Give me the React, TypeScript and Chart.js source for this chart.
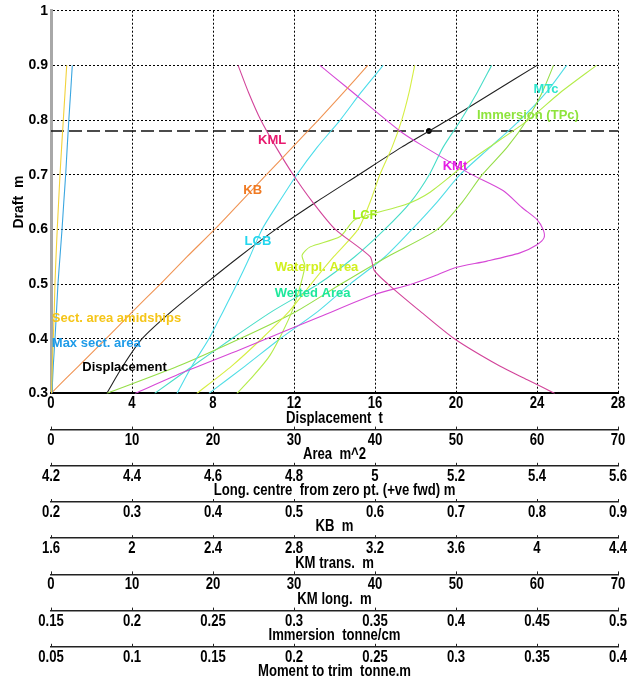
import React, { useEffect, useRef } from 'react';
import { Chart, registerables } from 'chart.js';
Chart.register(...registerables);

// ---- data ----
const drafts = [0.3, 0.35, 0.4, 0.45, 0.5, 0.55, 0.6, 0.65, 0.7, 0.75, 0.8, 0.85, 0.9];
const displacement = [2.75, 3.55, 4.5, 5.95, 7.6, 9.3, 11.1, 13.1, 15.2, 17.3, 19.6, 21.8, 24.0];
const sectAreaAmidships = [0.06, 0.16, 0.28, 0.4, 0.49, 0.62, 0.77, 0.94, 1.11, 1.31, 1.52, 1.73, 1.94];
const maxSectArea = [0.12, 0.28, 0.49, 0.68, 0.86, 1.11, 1.36, 1.58, 1.81, 2.0, 2.2, 2.42, 2.63];
const kb = [0.2, 0.234, 0.268, 0.301, 0.335, 0.368, 0.402, 0.434, 0.466, 0.498, 0.53, 0.561, 0.591];
const lcb = [4.511, 4.548, 4.59, 4.625, 4.659, 4.691, 4.721, 4.763, 4.807, 4.857, 4.914, 4.965, 5.02];
const waterplArea = [18.0, 22.3, 26.0, 29.4, 32.1, 34.9, 37.9, 39.4, 40.6, 42.1, 43.3, 44.2, 44.9];
const immersionTPc = [0.1845, 0.2286, 0.2665, 0.3014, 0.329, 0.3577, 0.3885, 0.4039, 0.4162, 0.4315, 0.4438, 0.4531, 0.4602];
const wettedArea = [12.8, 17.5, 22.3, 27.3, 33.0, 37.5, 41.2, 44.4, 46.7, 48.4, 50.6, 52.6, 54.4];
const mtc = [0.1475, 0.1698, 0.1914, 0.2148, 0.2346, 0.2562, 0.2728, 0.2883, 0.3025, 0.321, 0.3395, 0.3556, 0.3683];

const lcfDrafts = [0.3, 0.325, 0.37, 0.45, 0.532, 0.553, 0.568, 0.587, 0.618, 0.645, 0.668, 0.726, 0.798, 0.85, 0.9];
const lcf = [4.659, 4.691, 4.741, 4.795, 4.827, 4.82, 4.84, 4.914, 4.951, 5.074, 5.136, 5.235, 5.375, 5.457, 5.547];

const kmtDrafts = [0.3, 0.34, 0.38, 0.42, 0.44, 0.48, 0.5, 0.515, 0.53, 0.542, 0.557, 0.572, 0.585, 0.6, 0.618, 0.64, 0.671, 0.702, 0.756, 0.78, 0.86, 0.9];
const kmt = [2.015, 2.262, 2.533, 2.795, 2.928, 3.19, 3.383, 3.496, 3.595, 3.753, 3.916, 4.0, 4.035, 4.03, 4.0, 3.926, 3.832, 3.669, 3.422, 3.323, 3.06, 2.928];

const kmlDrafts = [0.3, 0.325, 0.35, 0.4, 0.45, 0.5, 0.525, 0.55, 0.6, 0.65, 0.7, 0.75, 0.8, 0.85, 0.9];
const kml = [62.2, 58.8, 55.4, 49.8, 45.6, 41.6, 39.9, 39.4, 35.1, 32.3, 29.9, 27.8, 25.9, 24.4, 23.1];

const designDraft = 0.78;
const designDisplacement = 18.66;

// curve labels
const labelTexts = ['Sect. area amidships', 'Max sect. area', 'Displacement', 'KML', 'KB', 'LCB', 'LCF', 'Waterpl. Area', 'Wetted Area', 'KMt', 'MTc', 'Immersion (TPc)'];
const labelAxes = ['xArea', 'xArea', 'x', 'xKML', 'xKB', 'xLong', 'xLong', 'xArea', 'xArea', 'xKMt', 'xMTc', 'xTPc'];
const labelValues = [0.1, 0.1, 3.63, 27.3, 0.449, 4.711, 4.975, 32.8, 32.3, 3.595, 0.3556, 0.4444];
const labelDrafts = [0.4375, 0.392, 0.348, 0.7626, 0.6713, 0.578, 0.6256, 0.5307, 0.4832, 0.715, 0.8557, 0.8083];
const labelAligns = ['left', 'left', 'center', 'center', 'center', 'center', 'center', 'center', 'center', 'center', 'center', 'center'];
const labelColors = ['#F5C518', '#1E9BE8', '#000000', '#E8196E', '#F07A22', '#22D6EE', '#A4EE1E', '#D2F01E', '#1EE89C', '#E41EE4', '#2EE6CE', '#8EE43C'];

// bottom axes
const axisIds = ['x', 'xArea', 'xLong', 'xKB', 'xKMt', 'xKML', 'xTPc', 'xMTc'];
const axisMins = [0, 0, 4.2, 0.2, 1.6, 0, 0.15, 0.05];
const axisMaxs = [28, 70, 5.6, 0.9, 4.4, 70, 0.5, 0.4];
const axisSteps = [4, 10, 0.2, 0.1, 0.4, 10, 0.05, 0.05];
const axisTitles = ['Displacement  t', 'Area  m^2', 'Long. centre  from zero pt. (+ve fwd) m', 'KB  m', 'KM trans.  m', 'KM long.  m', 'Immersion  tonne/cm', 'Moment to trim  tonne.m'];

const SANS = '"Liberation Sans", Arial, sans-serif';
const NARROW_SCALE = 0.82;

const pts = (ys: number[], xs: number[]) => xs.map((x, i) => ({ x, y: ys[i] }));
const fmt = (v: number) => String(Number(Number(v).toFixed(3)));

const labelPlugin = {
  id: 'curveLabels',
  afterDatasetsDraw(chart: any) {
    const ctx = chart.ctx;
    ctx.save();
    ctx.font = `bold 13px ${SANS}`;
    ctx.textBaseline = 'middle';
    labelTexts.forEach((t, i) => {
      const x = chart.scales[labelAxes[i]].getPixelForValue(labelValues[i]);
      const y = chart.scales.y.getPixelForValue(labelDrafts[i]);
      ctx.textAlign = labelAligns[i];
      ctx.fillStyle = labelColors[i];
      ctx.fillText(t, x, y);
    });
    ctx.restore();
  },
};

// narrow (condensed) text for the stacked bottom axes
const narrowText = (ctx: any, text: string, x: number, y: number) => {
  ctx.save();
  ctx.translate(x, y);
  ctx.scale(NARROW_SCALE, 1);
  ctx.fillText(text, 0, 0);
  ctx.restore();
};

const axisTextPlugin = {
  id: 'axisText',
  afterDraw(chart: any) {
    const ctx = chart.ctx;
    const area = chart.chartArea;
    ctx.save();
    ctx.fillStyle = '#000';
    ctx.strokeStyle = '#222';
    ctx.lineWidth = 1;
    ctx.textAlign = 'center';
    ctx.textBaseline = 'middle';
    ctx.font = `bold 16px ${SANS}`;
    axisIds.forEach((id, i) => {
      const s = chart.scales[id];
      s.ticks.forEach((t: any) => {
        const x = s.getPixelForValue(t.value);
        if (i > 0) {
          const px = Math.round(x) + 0.5;
          ctx.beginPath();
          ctx.moveTo(px, s.top - 3);
          ctx.lineTo(px, s.top);
          ctx.stroke();
        }
        narrowText(ctx, fmt(t.value), x, s.top + 10.5);
      });
      narrowText(ctx, axisTitles[i], (area.left + area.right) / 2, s.top + 25);
    });
    ctx.restore();
  },
};

function bottomAxis(i: number) {
  const main = i === 0;
  return {
    type: 'linear',
    position: 'bottom',
    min: axisMins[i],
    max: axisMaxs[i],
    weight: i,
    ticks: { stepSize: axisSteps[i], autoSkip: false, maxRotation: 0, display: false },
    grid: {
      display: main,
      drawOnChartArea: main,
      drawTicks: false,
      lineWidth: 1,
      color: (c: any) => (main && c.tick && Math.abs(c.tick.value) < 1e-9 ? 'rgba(0,0,0,0)' : '#000'),
    },
    border: { display: true, color: main ? '#000' : '#222', width: main ? 2 : 1.5, dash: main ? [2, 2] : [] },
    title: { display: false },
    afterFit: (s: any) => {
      s.height = 36.2;
    },
  };
}

export default function App() {
  const ref = useRef<HTMLCanvasElement | null>(null);
  useEffect(() => {
    if (!ref.current) return;
    const line = (label: string, axis: string, ys: number[], xs: number[], color: string, width = 1.1) => ({
      label,
      data: pts(ys, xs),
      xAxisID: axis,
      yAxisID: 'y',
      showLine: true,
      borderColor: color,
      backgroundColor: color,
      borderWidth: width,
      pointRadius: 0,
      tension: 0.25,
      fill: false,
    });
    const scales: any = {
      y: {
        type: 'linear',
        position: 'left',
        min: 0.3,
        max: 1,
        ticks: {
          stepSize: 0.1,
          color: '#000',
          padding: 3,
          font: { family: SANS, size: 14, weight: 'bold', lineHeight: 1.1 },
          callback: (v: any) => String(Number(Number(v).toFixed(1))),
        },
        grid: {
          drawTicks: false,
          lineWidth: 1,
          color: (c: any) => (c.tick && Math.abs(c.tick.value - 0.3) < 1e-6 ? 'rgba(0,0,0,0)' : '#000'),
        },
        border: { display: true, color: '#a8a8a8', width: 3, dash: [2, 2] },
        title: {
          display: true,
          text: 'Draft  m',
          color: '#000',
          font: { family: SANS, size: 14, weight: 'bold', lineHeight: 1.2 },
          padding: { top: 11, bottom: 0 },
        },
        afterFit: (s: any) => {
          s.width = 51;
        },
      },
    };
    axisIds.forEach((id, i) => {
      scales[id] = bottomAxis(i);
    });

    const chart = new Chart(ref.current, {
      type: 'scatter',
      data: {
        datasets: [
          line('Sect. area amidships', 'xArea', drafts, sectAreaAmidships, '#F2D23A'),
          line('Max sect. area', 'xArea', drafts, maxSectArea, '#3AA6E0'),
          line('KB', 'xKB', drafts, kb, '#F09454'),
          line('KML', 'xKML', kmlDrafts, kml, '#D2449A'),
          line('KMt', 'xKMt', kmtDrafts, kmt, '#D648D6'),
          line('LCB', 'xLong', drafts, lcb, '#4CDDEA'),
          line('Waterpl. Area', 'xArea', drafts, waterplArea, '#D6EE44'),
          line('LCF', 'xLong', lcfDrafts, lcf, '#B4EC4A'),
          line('Immersion (TPc)', 'xTPc', drafts, immersionTPc, '#96DE48'),
          line('Wetted Area', 'xArea', drafts, wettedArea, '#48DDC8'),
          line('MTc', 'xMTc', drafts, mtc, '#52DEE6'),
          line('Displacement', 'x', drafts, displacement, '#222222'),
          {
            label: 'Design draft',
            data: [{ x: 0, y: designDraft }, { x: 28, y: designDraft }],
            xAxisID: 'x',
            yAxisID: 'y',
            showLine: true,
            borderColor: '#111',
            borderWidth: 1.3,
            borderDash: [13, 5],
            pointRadius: 0,
          },
          {
            label: 'Design point',
            data: [{ x: designDisplacement, y: designDraft }],
            xAxisID: 'x',
            yAxisID: 'y',
            showLine: false,
            pointRadius: 2.5,
            backgroundColor: '#000',
            borderColor: '#000',
          },
        ] as any,
      },
      options: {
        responsive: false,
        animation: false,
        layout: { padding: { top: 10, right: 22, left: 0, bottom: 0 } },
        plugins: { legend: { display: false }, tooltip: { enabled: false }, title: { display: false } },
        scales,
      } as any,
      plugins: [labelPlugin as any, axisTextPlugin as any],
    });
    return () => chart.destroy();
  }, []);

  return (
    <div style={{ position: 'fixed', left: 0, top: 0, width: 640, height: 683, background: '#fff' }}>
      <canvas ref={ref} width={640} height={683} style={{ width: 640, height: 683, display: 'block' }} />
    </div>
  );
}
